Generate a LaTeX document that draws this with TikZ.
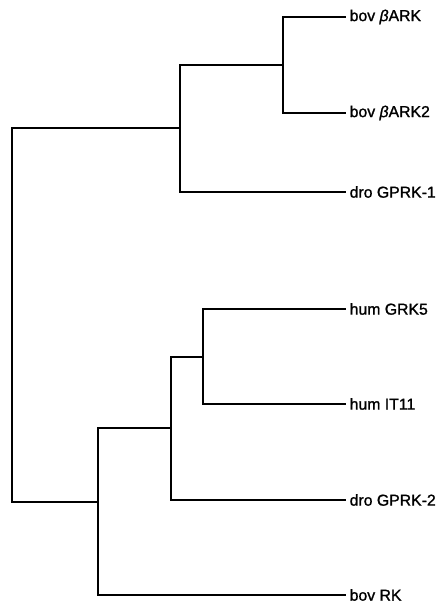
\documentclass[tikz,border=0pt]{standalone}
\usepackage{fontspec}
\setmainfont{Liberation Sans}
\newfontfamily\leaffont[FakeBold=1.2]{Liberation Sans}
\usepackage{tikz}
\usetikzlibrary{positioning}

\begin{document}
\begin{tikzpicture}[x=1pt, y=-1pt, branch/.style={line width=1.7pt},
		leaf/.style={anchor=west, inner sep=3.5pt, font=\leaffont\fontsize{15.8}{19}\selectfont}]
		\useasboundingbox (0,0) rectangle (438,603);
		
		\node[leaf] (bark) at (346,17) {bov \textit{β}ARK};
		\node[leaf] (barktwo) at (346,113) {bov \textit{β}ARK2};
		\node[leaf] (gprkone) at (346,192) {dro GPRK-1};
		\node[leaf] (grkfive) at (346,309) {hum GRK5};
		\node[leaf] (iteleven) at (346,404) {hum IT11};
		\node[leaf] (gprktwo) at (346,500) {dro GPRK-2};
		\node[leaf] (rk) at (346,595) {bov RK};
		
		\coordinate (root) at (12,315);
		\coordinate (nbark) at (283,65);
		\coordinate (ndro) at (180,128);
		\coordinate (nhum) at (203,357);
		\coordinate (nhumdro) at (171,428);
		\coordinate (nrk) at (98,502);
		
		\draw[branch] (nbark) |- (bark.west);
		\draw[branch] (nbark) |- (barktwo.west);
		\draw[branch] (ndro) |- (nbark);
		\draw[branch] (ndro) |- (gprkone.west);
		\draw[branch] (nhum) |- (grkfive.west);
		\draw[branch] (nhum) |- (iteleven.west);
		\draw[branch] (nhumdro) |- (nhum);
		\draw[branch] (nhumdro) |- (gprktwo.west);
		\draw[branch] (nrk) |- (nhumdro);
		\draw[branch] (nrk) |- (rk.west);
		\draw[branch] (root) |- (ndro);
		\draw[branch] (root) |- (nrk);
\end{tikzpicture}
\end{document}
